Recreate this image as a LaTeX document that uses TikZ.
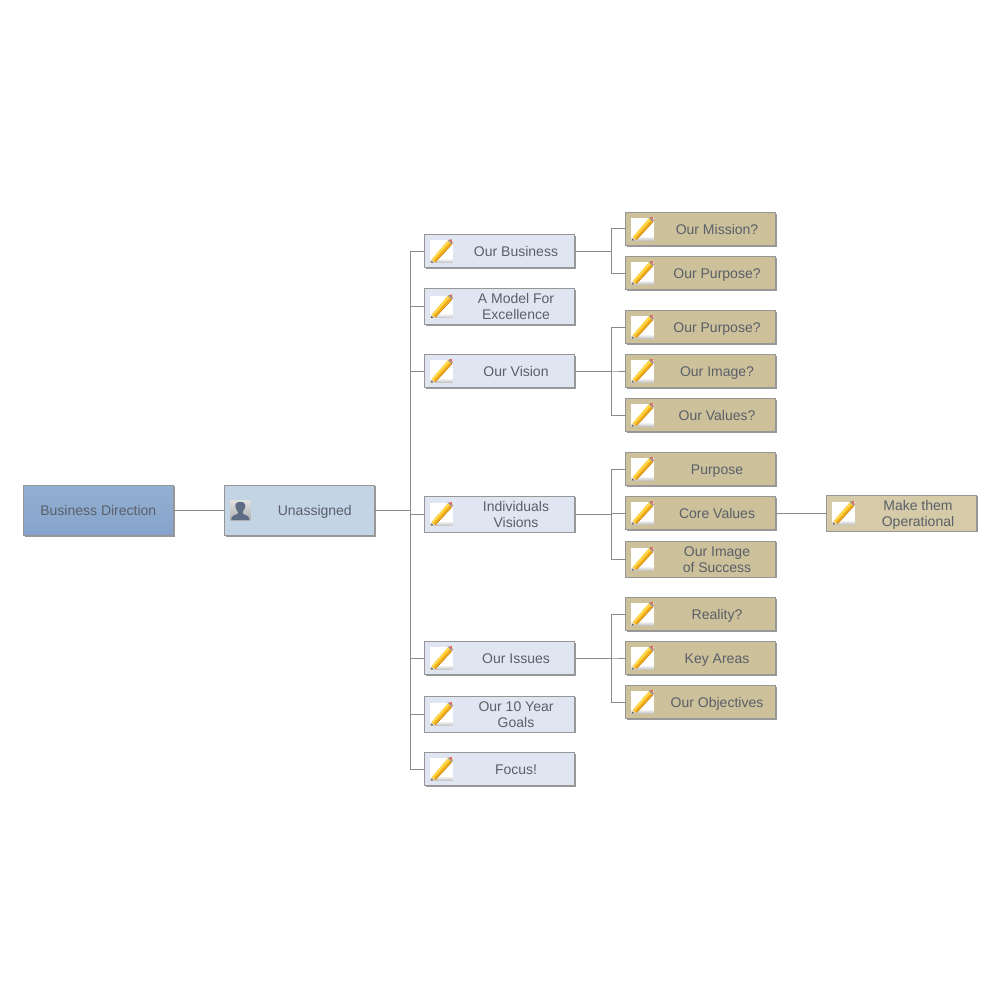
\documentclass[tikz,border=0pt]{standalone}
\usepackage{fontspec}
\setmainfont{Liberation Sans}
\usetikzlibrary{shadows}
\definecolor{inktext}{HTML}{5A5F68}
\definecolor{edgeln}{HTML}{8A8A8A}
\definecolor{boxln}{HTML}{969696}
\definecolor{rootA}{HTML}{92B1D2}
\definecolor{rootB}{HTML}{86A2CB}
\definecolor{unfill}{HTML}{C3D4E5}
\definecolor{lonefill}{HTML}{DFE6F1}
\definecolor{ltwofill}{HTML}{CCC19B}
\definecolor{lthreefill}{HTML}{D6CBA9}
\definecolor{pencilA}{HTML}{F2AC18}
\definecolor{pencilB}{HTML}{FFD84A}
\definecolor{pencilC}{HTML}{C98212}
\definecolor{pencilD}{HTML}{EBD8B0}
\definecolor{pencilE}{HTML}{E2604A}
\definecolor{personc}{HTML}{5C6C84}
\newcommand{\tl}[2][33pt]{\hspace*{#1}\raisebox{-2pt}[\height][\depth]{\begin{tabular}{@{}c@{}}#2\end{tabular}}}
\tikzset{
  basebox/.style={rectangle,draw=boxln,line width=1pt,outer sep=0pt,inner sep=0pt,text=inktext,
    minimum width=150pt,font=\fontsize{14}{16}\selectfont,
    drop shadow={shadow xshift=1.4pt,shadow yshift=-1.4pt,fill=black!50,opacity=.8}},
  rootbox/.style={basebox,top color=rootA,bottom color=rootB,minimum height=50.5pt},
  unbox/.style={basebox,fill=unfill,minimum height=50.5pt},
  lone/.style={basebox,fill=lonefill},
  ltwo/.style={basebox,fill=ltwofill},
  lthree/.style={basebox,fill=lthreefill},
  conn/.style={draw=edgeln,line width=1pt},
  pencilicon/.pic={
    \fill[white] (5.5,-11) rectangle (28,11);
    \shade[bottom color=black!22,top color=white] (5.5,11) rectangle (28,7);
    \fill[pencilA] (7.2,8.2) -- (10.8,11) -- (27.4,-7) -- (23.4,-10.6) -- cycle;
    \fill[pencilB] (8.8,9.4) -- (25.2,-8.8) -- (23.4,-10.6) -- (7.2,8.2) -- cycle;
    \draw[pencilC,line width=.5pt] (10.8,11) -- (27.4,-7);
    \fill[pencilD] (7.2,8.2) -- (6.6,11.4) -- (10.8,11) -- cycle;
    \fill[black!75] (7.2,9.6) -- (6.6,11.4) -- (8.6,11.2) -- cycle;
    \fill[black!40] (23.4,-10.6) -- (27.4,-7) -- (28.4,-8.2) -- (24.6,-11.6) -- cycle;
    \fill[pencilE] (24.6,-11.6) -- (28.4,-8.2) -- (27,-12) -- cycle;
  },
  personicon/.pic={
    \shade[top color=black!12,bottom color=black!32] (6,-10) rectangle (26,10);
    \fill[personc] (11,-5.5) .. controls (11,-9.5) and (21,-9.5) .. (21,-5.5)
      .. controls (21,-2) and (19.5,0) .. (18.5,1.5) -- (18.5,3.5)
      .. controls (22,5) and (25,5.5) .. (25,9.5) -- (7,9.5)
      .. controls (7,5.5) and (10,5) .. (13.5,3.5) -- (13.5,1.5)
      .. controls (12.5,0) and (11,-2) .. (11,-5.5) -- cycle;
  }
}
\begin{document}
\begin{tikzpicture}[x=1pt,y=-1pt]
\useasboundingbox (0,0) rectangle (1000,1000);
\coordinate (busA) at (410,510);
\coordinate (busB) at (611,510);

% nodes
\node[rootbox] (root) at (98.3,510.3) {Business Direction};
\node[unbox] (un) at (299.3,510.3) {\tl[31pt]{Unassigned}};

\node[lone,minimum height=33pt] (bus) at (499.5,251.3) {\tl{Our Business}};
\node[lone,minimum height=36pt] (model) at (499.5,306.5) {\tl{A Model For\\Excellence}};
\node[lone,minimum height=33pt] (vis) at (499.5,371) {\tl{Our Vision}};
\node[lone,minimum height=36pt] (ind) at (499.5,514) {\tl{Individuals\\Visions}};
\node[lone,minimum height=33pt] (iss) at (499.5,658) {\tl{Our Issues}};
\node[lone,minimum height=36pt] (goals) at (499.5,714) {\tl{Our 10 Year\\Goals}};
\node[lone,minimum height=33pt] (focus) at (499.5,769) {\tl{Focus!}};

\node[ltwo,minimum height=33pt] (mis) at (700.5,229) {\tl{Our Mission?}};
\node[ltwo,minimum height=33pt] (pura) at (700.5,273) {\tl{Our Purpose?}};
\node[ltwo,minimum height=33pt] (purb) at (700.5,327) {\tl{Our Purpose?}};
\node[ltwo,minimum height=33pt] (ima) at (700.5,371) {\tl{Our Image?}};
\node[ltwo,minimum height=33pt] (val) at (700.5,415) {\tl{Our Values?}};
\node[ltwo,minimum height=33pt] (purc) at (700.5,469) {\tl{Purpose}};
\node[ltwo,minimum height=33pt] (core) at (700.5,513) {\tl{Core Values}};
\node[ltwo,minimum height=36pt] (imb) at (700.5,559) {\tl{Our Image\\of Success}};
\node[ltwo,minimum height=33pt] (real) at (700.5,614) {\tl{Reality?}};
\node[ltwo,minimum height=33pt] (key) at (700.5,658) {\tl{Key Areas}};
\node[ltwo,minimum height=33pt] (obj) at (700.5,702) {\tl{Our Objectives}};

\node[lthree,minimum height=36pt] (make) at (901.5,513) {\tl{Make them\\Operational}};

% connectors
\draw[conn] (root.east) -- (un.west);
\foreach \c in {bus,model,vis,ind,iss,goals,focus}
  \draw[conn] (un.east) -- (un.east -| busA) |- (\c.west);
\foreach \p/\c in {bus/mis,bus/pura,vis/purb,vis/ima,vis/val,ind/purc,ind/core,ind/imb,iss/real,iss/key,iss/obj}
  \draw[conn] (\p.east) -- (\p.east -| busB) |- (\c.west);
\draw[conn] (core.east) -- (make.west);

% icons
\pic at (un.west) {personicon};
\foreach \c in {bus,model,vis,ind,iss,goals,focus,mis,pura,purb,ima,val,purc,core,imb,real,key,obj,make}
  \pic at (\c.west) {pencilicon};
\end{tikzpicture}
\end{document}
